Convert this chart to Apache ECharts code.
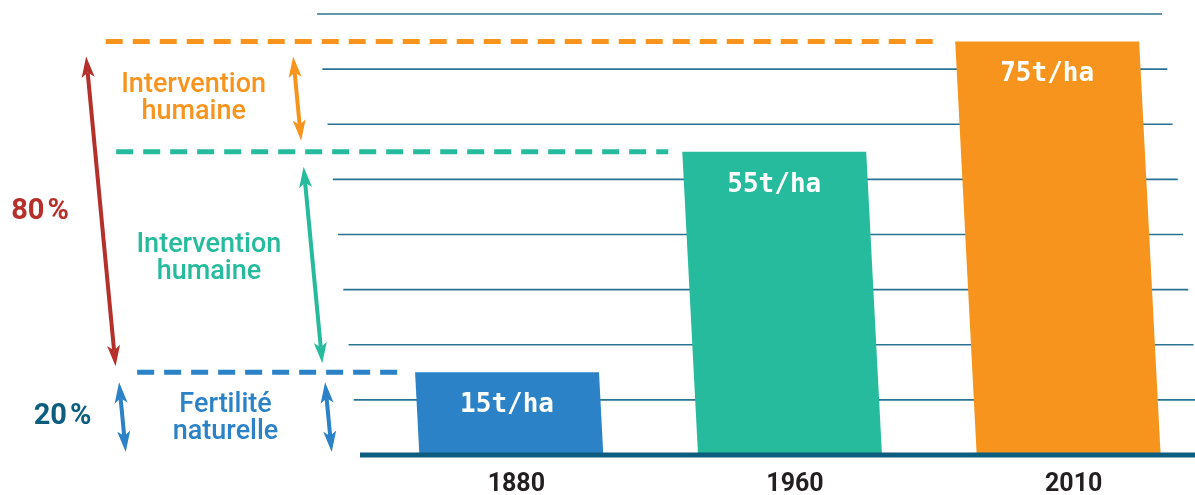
<!DOCTYPE html>
<html>
<head>
<meta charset="utf-8">
<script src="https://cdn.jsdelivr.net/npm/echarts@6.0.0/dist/echarts.min.js"></script>
<style>
  html, body { margin: 0; padding: 0; background: #ffffff; }
  #chart { width: 1195px; height: 495px; }
</style>
</head>
<body>
<div id="chart"></div>
<script>
// Yield per hectare by year
const years = ['1880', '1960', '2010'];
const yields = [15, 55, 75];
const yieldUnit = 't/ha';
const yTicks = [0, 10, 20, 30, 40, 50, 60, 70, 80];

// Colours of the three stages
const barColors = ['#2b82c6', '#26bb9c', '#f7941e'];
const bandTexts = ['Fertilité\nnaturelle', 'Intervention\nhumaine', 'Intervention\nhumaine'];
const RED = '#b5302a';
const DARK = '#0c5d7e';
const GRID = '#2a7393';

// perspective slants (pixels of horizontal shift per pixel of height)
const GRID_SLANT = 0.095;
const BAR_SLANT = 0.052;

const chart = echarts.init(document.getElementById('chart'), null, { renderer: 'canvas' });

const gridSeries = {
  type: 'custom',
  silent: true,
  z: 1,
  data: yTicks.filter(v => v !== 0).map(v => [0, v]),
  encode: { x: 0, y: 1 },
  renderItem(params, api) {
    const v = api.value(1);
    const y = api.coord([0, v])[1];
    const y0 = api.coord([0, 0])[1];
    const d = (y0 - y) * GRID_SLANT;
    const cs = params.coordSys;
    return {
      type: 'line',
      shape: { x1: cs.x - 13 - d, y1: y, x2: cs.x + cs.width - 4 - d, y2: y },
      style: { stroke: GRID, lineWidth: 1.6 }
    };
  }
};

const barSeries = {
  type: 'custom',
  silent: true,
  z: 2,
  data: years.map((y, i) => [i, yields[i]]),
  encode: { x: 0, y: 1 },
  renderItem(params, api) {
    const i = params.dataIndex;
    const v = api.value(1);
    const b = api.coord([i, 0]);
    const t = api.coord([i, v]);
    const hw = api.size([1, 0])[0] * 0.66 / 2;
    const s = (b[1] - t[1]) * BAR_SLANT;
    const topLeft = b[0] - hw - s;
    const dashStart = 145 - GRID_SLANT * (b[1] - t[1]);
    return {
      type: 'group',
      children: [
        {
          type: 'line',
          shape: { x1: dashStart, y1: t[1], x2: topLeft - 14, y2: t[1] },
          style: { stroke: barColors[i], lineWidth: 5, lineDash: [17, 10] }
        },
        {
          type: 'polygon',
          shape: { points: [[b[0] - hw, b[1]], [b[0] + hw, b[1]], [b[0] + hw - s, t[1]], [topLeft, t[1]]] },
          style: { fill: barColors[i] }
        },
        {
          type: 'text',
          style: {
            text: v + yieldUnit,
            x: b[0] - s, y: t[1] + 33,
            textAlign: 'center', textVerticalAlign: 'middle',
            fill: '#ffffff',
            font: 'bold 26px "DejaVu Sans Mono", monospace'
          }
        }
      ]
    };
  }
};

const baselineSeries = {
  type: 'custom',
  silent: true,
  z: 3,
  data: [[0, 0]],
  encode: { x: 0, y: 1 },
  renderItem(params, api) {
    const y = api.coord([0, 0])[1];
    const cs = params.coordSys;
    return {
      type: 'line',
      shape: { x1: cs.x - 12, y1: y, x2: cs.x + cs.width, y2: y },
      style: { stroke: DARK, lineWidth: 5 }
    };
  }
};

chart.setOption({
  animation: false,
  grid: { left: 372, top: 14, width: 836, height: 441, outerBoundsMode: 'none', containLabel: false },
  xAxis: {
    type: 'category',
    data: years,
    axisLine: { show: false },
    axisTick: { show: false },
    axisLabel: {
      margin: 17, color: '#231f20', fontSize: 25,
      fontFamily: 'Roboto', fontWeight: 'bold', padding: [0, 0, 0, 10]
    }
  },
  yAxis: { type: 'value', min: 0, max: 80, interval: 10, show: false, splitLine: { show: false } },
  series: [gridSeries, barSeries, baselineSeries]
});

// Left-hand annotations: double arrows, share labels and stage names
const py = v => chart.convertToPixel({ yAxisIndex: 0 }, v);
const yBase = py(0);
const ax = (x0, y) => x0 - GRID_SLANT * (yBase - y);

function arrow(x1, y1, x2, y2, color) {
  const dx = x2 - x1, dy = y2 - y1, L = Math.hypot(dx, dy);
  const ux = dx / L, uy = dy / L, px = -uy, py2 = ux;
  const HL = 21, HW = 6.5, N = 5;
  const head = (tx, ty, sx, sy) => ({
    type: 'polygon',
    shape: { points: [
      [tx, ty],
      [tx + sx * HL + px * HW, ty + sy * HL + py2 * HW],
      [tx + sx * (HL - N), ty + sy * (HL - N)],
      [tx + sx * HL - px * HW, ty + sy * HL - py2 * HW]
    ] },
    style: { fill: color }
  });
  return [
    { type: 'line',
      shape: { x1: x1 + ux * (HL - N), y1: y1 + uy * (HL - N), x2: x2 - ux * (HL - N), y2: y2 - uy * (HL - N) },
      style: { stroke: color, lineWidth: 4 } },
    head(x1, y1, ux, uy),
    head(x2, y2, -ux, -uy)
  ];
}

const yLow = py(yields[0]), yMid = py(yields[1]), yTop = py(yields[2]);
const naturalShare = Math.round(yields[0] / yields[2] * 100);
const humanShare = 100 - naturalShare;

const elements = [];
// red arrow: human share of the final yield
const rTop = yTop + 15, rBot = yLow - 6;
elements.push(...arrow(ax(124, rTop), rTop, ax(124, rBot), rBot, RED));
// orange arrow: 1960 -> 2010
const oTop = yTop + 15, oBot = yMid - 11;
elements.push(...arrow(ax(331, oTop), oTop, ax(331, oBot), oBot, barColors[2]));
// teal arrow: 1880 -> 1960
const tTop = yMid + 15, tBot = yLow - 9;
elements.push(...arrow(ax(331, tTop), tTop, ax(331, tBot), tBot, barColors[1]));
// blue arrows: natural fertility
const bTop = yLow + 10, bBot = yBase - 3;
elements.push(...arrow(ax(126, bTop), bTop, ax(126, bBot), bBot, barColors[0]));
elements.push(...arrow(ax(332, bTop), bTop, ax(332, bBot), bBot, barColors[0]));

const bandFont = '500 27px Roboto, "Liberation Sans", sans-serif';
const bands = [
  { yc: (yLow + yBase) / 2 + 5, left: 126, right: 332, color: barColors[0], text: bandTexts[0] },
  { yc: (yMid + yLow) / 2 - 3, left: 124, right: 331, color: barColors[1], text: bandTexts[1] },
  { yc: (yTop + yMid) / 2 + 2, left: 124, right: 331, color: barColors[2], text: bandTexts[2] }
];
bands.forEach(b => {
  elements.push({
    type: 'text',
    style: {
      text: b.text,
      x: (ax(b.left, b.yc) + ax(b.right, b.yc)) / 2, y: b.yc,
      textAlign: 'center', textVerticalAlign: 'middle',
      fill: b.color, font: bandFont, lineHeight: 27
    }
  });
});

const pctFont = 'bold 29px Roboto, "Liberation Sans", sans-serif';
const rMid = (rTop + rBot) / 2;
elements.push({
  type: 'text',
  style: {
    text: humanShare + '\u200a%', x: ax(124, rMid) - 32, y: rMid,
    textAlign: 'right', textVerticalAlign: 'middle', fill: RED, font: pctFont
  }
});
const bMid = (bTop + bBot) / 2;
elements.push({
  type: 'text',
  style: {
    text: naturalShare + '\u200a%', x: ax(126, bMid) - 31, y: bMid,
    textAlign: 'right', textVerticalAlign: 'middle', fill: DARK, font: pctFont
  }
});

chart.setOption({ graphic: { elements: elements.map(e => Object.assign({ silent: true, z: 10 }, e)) } });
</script>
</body>
</html>
